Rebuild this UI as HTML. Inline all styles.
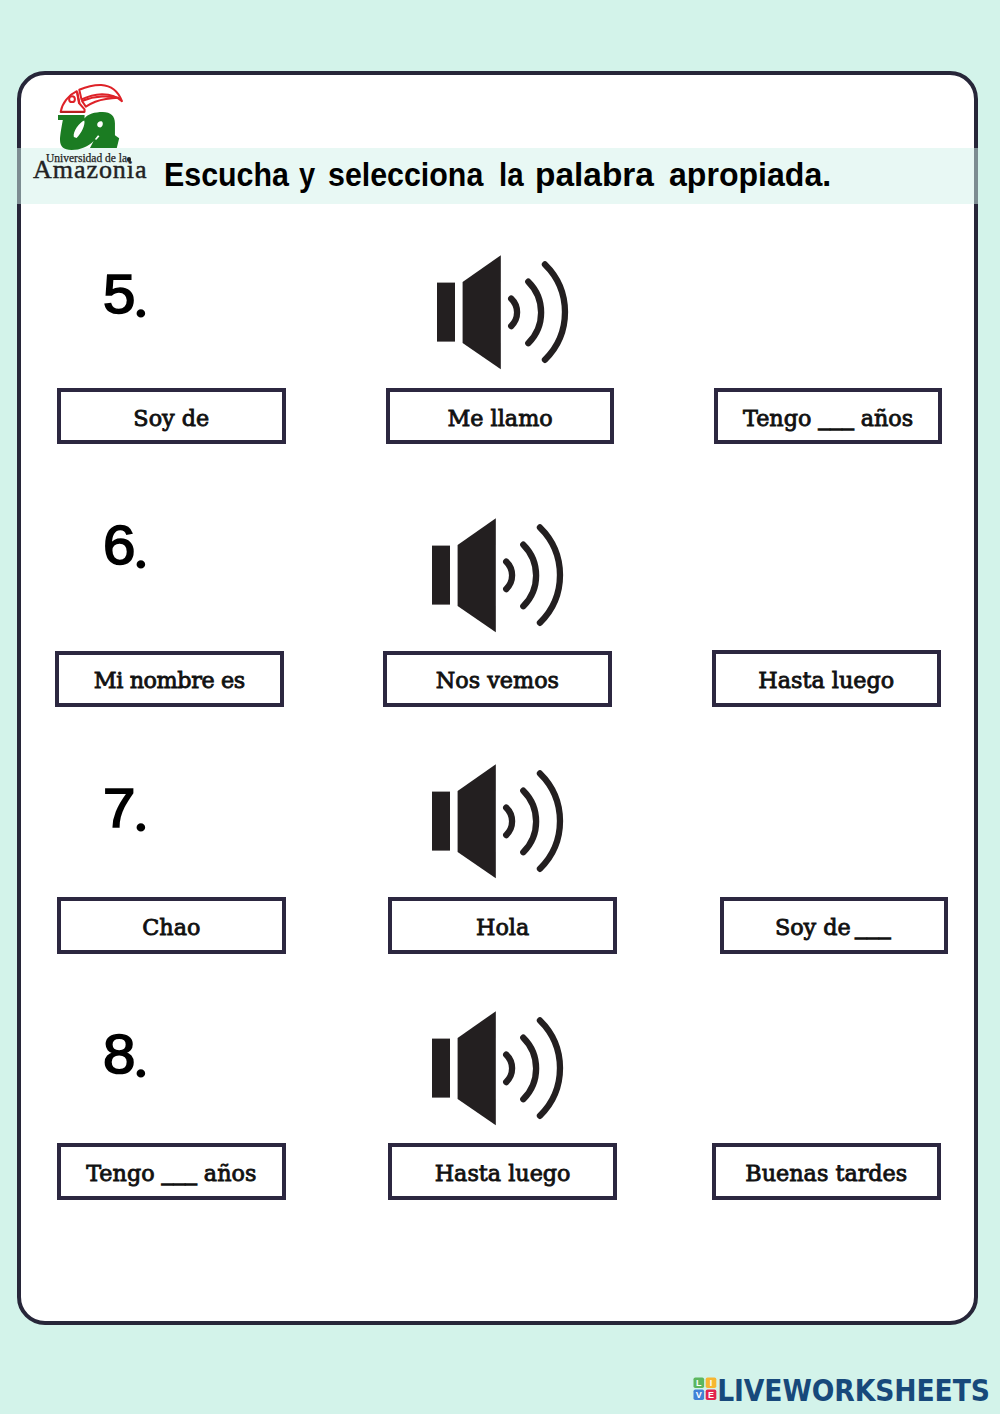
<!DOCTYPE html>
<html lang="es">
<head>
<meta charset="utf-8">
<title>Escucha y selecciona la palabra apropiada</title>
<style>
html,body{margin:0;padding:0;}
body{width:1000px;height:1414px;position:relative;overflow:hidden;background:#d3f3ea;font-family:"Liberation Sans",sans-serif;}
.card{position:absolute;left:17px;top:71px;width:961px;height:1254px;box-sizing:border-box;border:4px solid #272639;border-radius:28px;background:#fff;}
.band{position:absolute;left:17px;top:147.8px;width:961px;height:56.5px;background:rgba(209,242,233,0.5);}
.title{position:absolute;left:165px;top:156px;width:680px;height:38px;margin:0;font:bold 33px/38px "Liberation Sans",sans-serif;color:#000;white-space:nowrap;}
.title span{position:absolute;top:0;transform-origin:0 0;}
.num{position:absolute;font:55px/54px "Liberation Sans",sans-serif;-webkit-text-stroke:1.7px #000;paint-order:stroke fill;stroke-linejoin:round;color:#000;white-space:nowrap;transform-origin:0 0;transform:scaleX(1.06);letter-spacing:-2.6px;}
.num i{font:bold 50px/54px "Liberation Serif",serif;-webkit-text-stroke:0;position:relative;top:4px;left:1.6px;}
.opt{position:absolute;width:228.6px;height:56.6px;box-sizing:border-box;padding-top:1.8px;border:4px solid #2c2740;background:#fff;text-align:center;font:22.3px/49px "DejaVu Serif","Liberation Serif",serif;color:#111;-webkit-text-stroke:0.85px #111;white-space:nowrap;}
.opt .u{position:relative;top:-1px;-webkit-text-stroke:1.7px #111;letter-spacing:0.8px;margin-right:-0.8px;}
.spk{position:absolute;width:150px;height:125px;overflow:visible;}
.lg1{position:absolute;left:46px;top:151.5px;font:11.5px/12px "Liberation Serif",serif;color:#222;-webkit-text-stroke:0.25px #222;white-space:nowrap;}
.lgdot{position:absolute;left:126.9px;top:157px;width:4.6px;height:4.6px;border-radius:50%;background:#222;}
.lg2{position:absolute;left:33px;top:155.5px;font:26px/28px "Liberation Serif",serif;color:#222;-webkit-text-stroke:0.45px #222;letter-spacing:0.95px;white-space:nowrap;}
.lw{position:absolute;left:24.2px;top:-2.7px;font:bold 29.6px/32px "DejaVu Sans Condensed","DejaVu Sans","Liberation Sans",sans-serif;color:#17497b;letter-spacing:-0.1px;white-space:nowrap;}
.foot{position:absolute;left:693px;top:1377.2px;width:300px;height:30px;}
</style>
</head>
<body>
<div class="card"></div>
<div class="band"></div>
<h1 class="title"><span style="left:-1.1px;transform:scaleX(0.920)">Escucha</span> <span style="left:134.4px;transform:scaleX(0.88)">y</span> <span style="left:163.4px;transform:scaleX(0.920)">selecciona</span> <span style="left:333.5px;transform:scaleX(0.893)">la</span> <span style="left:370.3px;transform:scaleX(1.013)">palabra</span> <span style="left:503.6px;transform:scaleX(0.972)">apropiada.</span></h1>

<div class="num" style="left:103px;top:266.6px">5<i>.</i></div>
<div class="num" style="left:102.5px;top:518px">6<i>.</i></div>
<div class="num" style="left:102.5px;top:781px">7<i>.</i></div>
<div class="num" style="left:103px;top:1027px">8<i>.</i></div>

<div class="opt" style="left:57px;top:387.9px">Soy de</div>
<div class="opt" style="left:385.8px;top:387.9px">Me llamo</div>
<div class="opt" style="left:713.8px;top:387.9px">Tengo <span class="u">___</span> años</div>

<div class="opt" style="left:55px;top:650.5px;letter-spacing:-0.4px">Mi nombre es</div>
<div class="opt" style="left:383.1px;top:650.5px">Nos vemos</div>
<div class="opt" style="left:712px;top:650px">Hasta luego</div>

<div class="opt" style="left:57px;top:897px">Chao</div>
<div class="opt" style="left:388.3px;top:897px">Hola</div>
<div class="opt" style="left:719.6px;top:897px">Soy de <span class="u" style="left:-2.5px">___</span></div>

<div class="opt" style="left:57px;top:1143.4px">Tengo <span class="u">___</span> años</div>
<div class="opt" style="left:388.3px;top:1143.4px">Hasta luego</div>
<div class="opt" style="left:712px;top:1143.4px">Buenas tardes</div>

<svg class="spk" style="left:430px;top:250px" viewBox="0 0 150 125">
<rect x="7" y="32.6" width="18" height="59" fill="#231f20"/>
<polygon points="32.6,32 70.8,5.2 70.8,119.2 32.6,93" fill="#231f20"/>
<g fill="none" stroke="#231f20" stroke-width="6.3" stroke-linecap="round">
<path d="M81.2 48.6 A19 19 0 0 1 81.2 76.1"/>
<path d="M98.3 31.7 A43.3 43.3 0 0 1 98.3 93.2"/>
<path d="M114.95 14.4 A66.8 66.8 0 0 1 114.95 109.8"/>
</g>
</svg>
<svg class="spk" style="left:425px;top:513px" viewBox="0 0 150 125">
<rect x="7" y="32.6" width="18" height="59" fill="#231f20"/>
<polygon points="32.6,32 70.8,5.2 70.8,119.2 32.6,93" fill="#231f20"/>
<g fill="none" stroke="#231f20" stroke-width="6.3" stroke-linecap="round">
<path d="M81.2 48.6 A19 19 0 0 1 81.2 76.1"/>
<path d="M98.3 31.7 A43.3 43.3 0 0 1 98.3 93.2"/>
<path d="M114.95 14.4 A66.8 66.8 0 0 1 114.95 109.8"/>
</g>
</svg>
<svg class="spk" style="left:425px;top:759.4px" viewBox="0 0 150 125">
<rect x="7" y="32.6" width="18" height="59" fill="#231f20"/>
<polygon points="32.6,32 70.8,5.2 70.8,119.2 32.6,93" fill="#231f20"/>
<g fill="none" stroke="#231f20" stroke-width="6.3" stroke-linecap="round">
<path d="M81.2 48.6 A19 19 0 0 1 81.2 76.1"/>
<path d="M98.3 31.7 A43.3 43.3 0 0 1 98.3 93.2"/>
<path d="M114.95 14.4 A66.8 66.8 0 0 1 114.95 109.8"/>
</g>
</svg>
<svg class="spk" style="left:425px;top:1006px" viewBox="0 0 150 125">
<rect x="7" y="32.6" width="18" height="59" fill="#231f20"/>
<polygon points="32.6,32 70.8,5.2 70.8,119.2 32.6,93" fill="#231f20"/>
<g fill="none" stroke="#231f20" stroke-width="6.3" stroke-linecap="round">
<path d="M81.2 48.6 A19 19 0 0 1 81.2 76.1"/>
<path d="M98.3 31.7 A43.3 43.3 0 0 1 98.3 93.2"/>
<path d="M114.95 14.4 A66.8 66.8 0 0 1 114.95 109.8"/>
</g>
</svg>

<svg class="logo" style="position:absolute;left:50px;top:80px" width="80" height="75" viewBox="0 0 1000 938">
<g fill="none" stroke="#de2228" stroke-width="25" stroke-linejoin="round">
<path d="M133 398 C150 290 230 190 335 140 L362 288 L432 368 L432 398 Z" fill="#fff"/>
<circle cx="275" cy="240" r="36" fill="#fff"/>
<path d="M366 122 C450 85 540 60 640 62 C780 70 860 160 900 265 C850 215 770 180 650 177 C550 180 460 210 394 243 Z" fill="#fff"/>
<path d="M400 262 C480 230 560 212 650 207 C740 203 800 210 855 222 C760 225 640 245 566 272 C510 295 475 315 448 333 Z" fill="#fff"/>
<path d="M340 150 L368 290" stroke-width="26"/>
</g>
<path d="M128 402 H434" stroke="#b3201f" stroke-width="22" fill="none"/>
<path fill="#1b7c22" fill-rule="evenodd" d="M100 438 H432 V480 C470 425 560 400 660 400 C760 400 812 450 812 540 V690 L865 730 L835 850 H500 L545 762 C480 830 380 875 270 875 C170 875 125 830 125 750 C125 680 150 560 160 500 H100 Z M298 712 C282 655 365 530 428 508 C446 555 388 680 332 724 Z M590 560 C590 530 620 510 650 520 C670 540 660 585 630 595 C605 595 590 580 590 560 Z M560 742 L600 690 L618 702 L580 748 Z"/>
</svg>
<div class="lg1">Universidad de la</div>
<div class="lgdot"></div>
<div class="lg2">Amazonia</div>

<div class="foot">
<svg width="26" height="24" viewBox="0 0 26 24" style="position:absolute;left:0;top:0">
<rect x="0.5" y="0.5" width="10.6" height="10.6" rx="1.8" fill="#5cb75f"/>
<rect x="12.7" y="0.5" width="10.6" height="10.6" rx="1.8" fill="#f6b632"/>
<rect x="0.5" y="12.5" width="10.6" height="10.6" rx="1.8" fill="#3f82d6"/>
<rect x="12.7" y="12.5" width="10.6" height="10.6" rx="1.8" fill="#e2234f"/>
<g font-family="Liberation Sans, sans-serif" font-weight="bold" font-size="9" fill="#fff" text-anchor="middle">
<text x="5.8" y="9">L</text><text x="18" y="9">I</text><text x="5.8" y="21">V</text><text x="18" y="21">E</text>
</g>
</svg>
<span class="lw">LIVEWORKSHEETS</span>
</div>

</body>
</html>
